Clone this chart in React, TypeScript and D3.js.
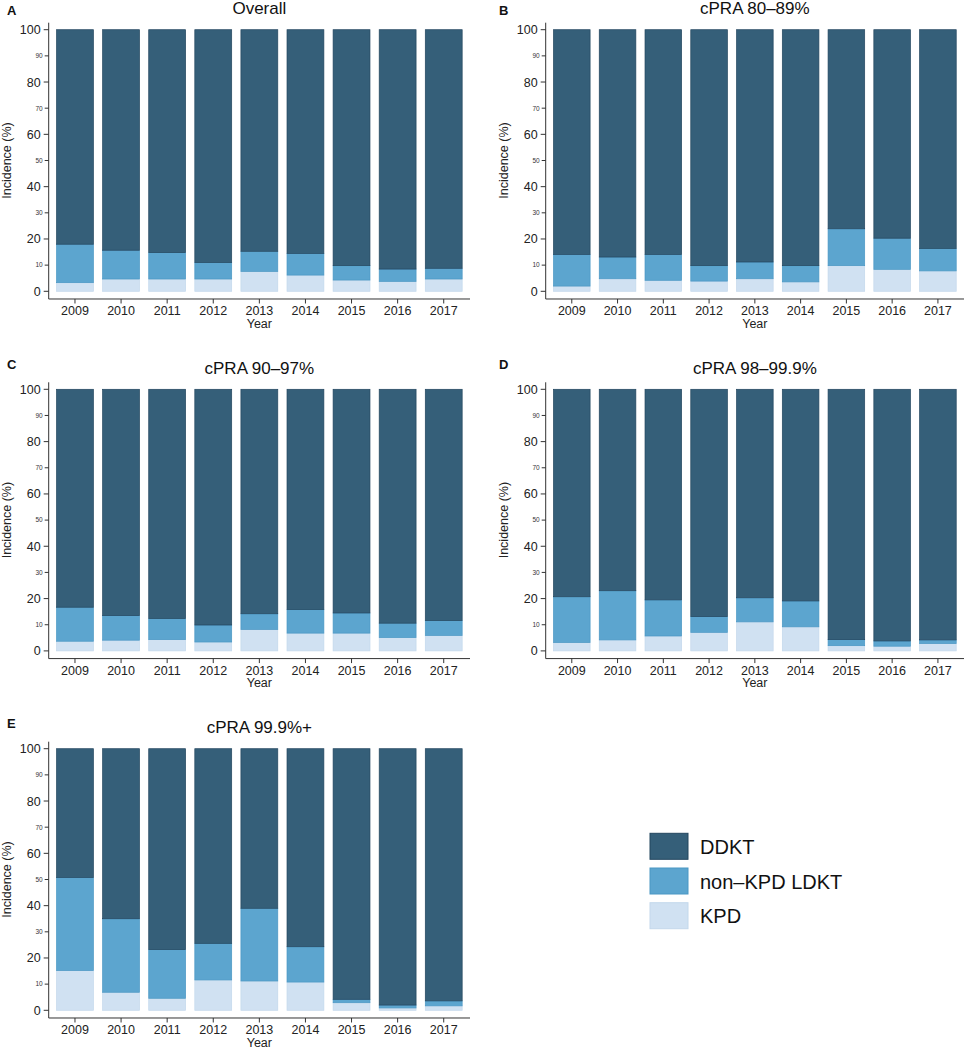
import React from 'react';
import * as d3 from 'd3';

const YEARS = ['2009', '2010', '2011', '2012', '2013', '2014', '2015', '2016', '2017'];
const SERIES = ['KPD', 'non\u2013KPD LDKT', 'DDKT'];
const LEGEND_ORDER = ['DDKT', 'non\u2013KPD LDKT', 'KPD'];
const MAJOR_TICKS = [0, 20, 40, 60, 80, 100];
const MINOR_TICKS = [10, 30, 50, 70, 90];

// Panel A – Overall
const A_KPD = [3.3, 4.7, 4.7, 4.7, 7.6, 6.2, 4.3, 3.8, 4.7];
const A_LDKT = [14.7, 11.0, 10.1, 6.3, 7.7, 8.3, 5.5, 4.7, 4.1];
const A_DDKT = [82.0, 84.3, 85.2, 89.0, 84.7, 85.5, 90.2, 91.5, 91.2];
// Panel B – cPRA 80–89%
const B_KPD = [2.0, 4.8, 4.2, 3.9, 4.8, 3.6, 9.8, 8.4, 7.8];
const B_LDKT = [12.1, 8.3, 9.9, 5.9, 6.4, 6.2, 14.1, 11.9, 8.6];
const B_DDKT = [85.9, 86.9, 85.9, 90.2, 88.8, 90.2, 76.1, 79.7, 83.6];
// Panel C – cPRA 90–97%
const C_KPD = [3.7, 4.1, 4.3, 3.4, 8.2, 6.8, 6.8, 5.1, 5.9];
const C_LDKT = [13.0, 9.4, 8.1, 6.5, 6.0, 9.0, 7.7, 5.5, 5.7];
const C_DDKT = [83.3, 86.5, 87.6, 90.1, 85.8, 84.2, 85.5, 89.4, 88.4];
// Panel D – cPRA 98–99.9%
const D_KPD = [3.2, 4.2, 5.7, 7.1, 11.1, 9.2, 2.0, 1.8, 2.8];
const D_LDKT = [17.5, 18.8, 13.8, 6.0, 9.2, 9.9, 2.3, 2.0, 1.4];
const D_DDKT = [79.3, 77.0, 80.5, 86.9, 79.7, 80.9, 95.7, 96.2, 95.8];
// Panel E – cPRA 99.9%+
const E_KPD = [15.2, 6.9, 4.6, 11.6, 11.2, 10.8, 2.9, 0.9, 1.7];
const E_LDKT = [35.6, 28.1, 18.6, 14.0, 27.8, 13.5, 1.3, 1.1, 1.9];
const E_DDKT = [49.2, 65.0, 76.8, 74.4, 61.0, 75.7, 95.8, 98.0, 96.4];

const FILL: Record<string, string> = {
  DDKT: '#355f79',
  'non\u2013KPD LDKT': '#5ca5cf',
  KPD: '#d0e1f2',
};
const STROKE: Record<string, string> = {
  DDKT: '#23465f',
  'non\u2013KPD LDKT': '#4a97c4',
  KPD: '#c3d8ec',
};

const FONT = '"Liberation Sans", Arial, Helvetica, sans-serif';

const panels = [
  { letter: 'A', title: 'Overall', kpd: A_KPD, ldkt: A_LDKT, ddkt: A_DDKT, col: 0, row: 0 },
  { letter: 'B', title: 'cPRA 80\u201389%', kpd: B_KPD, ldkt: B_LDKT, ddkt: B_DDKT, col: 1, row: 0 },
  { letter: 'C', title: 'cPRA 90\u201397%', kpd: C_KPD, ldkt: C_LDKT, ddkt: C_DDKT, col: 0, row: 1 },
  { letter: 'D', title: 'cPRA 98\u201399.9%', kpd: D_KPD, ldkt: D_LDKT, ddkt: D_DDKT, col: 1, row: 1 },
  { letter: 'E', title: 'cPRA 99.9%+', kpd: E_KPD, ldkt: E_LDKT, ddkt: E_DDKT, col: 0, row: 2 },
];

const COL_LEFT = [48.7, 545.7];
const COL_RIGHT = [470, 964];
const COL_LETTER_X = [7, 499];
const ROW_Y100 = [29.7, 389.3, 748.7];
const ROW_LETTER_OFFSET = [15, 20, 21];
const UNIT = 2.616;

function Panel({ p }: { p: (typeof panels)[number] }) {
  const left = COL_LEFT[p.col];
  const right = COL_RIGHT[p.col];
  const y100 = ROW_Y100[p.row];
  const y0 = y100 + 100 * UNIT;
  const y = d3.scaleLinear().domain([0, 100]).range([y0, y100]);
  const yBottom = y(-2.94);
  const yTop = y(102.68);
  const x = d3
    .scaleBand<string>()
    .domain(YEARS)
    .range([left, right])
    .paddingInner(0.2)
    .paddingOuter(0.17);

  const rows = YEARS.map((yr, i) => ({
    year: yr,
    KPD: p.kpd[i],
    'non\u2013KPD LDKT': p.ldkt[i],
    DDKT: p.ddkt[i],
  }));
  const stacked = d3.stack<any>().keys(SERIES)(rows);
  const bw = x.bandwidth();
  const cx = (left + right) / 2;

  return (
    <g>
      <text x={COL_LETTER_X[p.col]} y={y100 - ROW_LETTER_OFFSET[p.row]} fontSize={13} fontWeight="bold" fill="#111">
        {p.letter}
      </text>
      <text x={cx} y={y100 - 15.7} fontSize={17} textAnchor="middle" fill="#111">
        {p.title}
      </text>
      {stacked.map((s) => (
        <g key={s.key}>
          {s.map((d, i) => (
            <rect
              key={i}
              x={x(YEARS[i])}
              width={bw}
              y={y(d[1])}
              height={Math.max(0, y(d[0]) - y(d[1]))}
              fill={FILL[s.key]}
              stroke={STROKE[s.key]}
              strokeWidth={0.7}
            />
          ))}
        </g>
      ))}
      {/* y axis */}
      <line x1={left} x2={left} y1={yTop} y2={yBottom} stroke="#333" strokeWidth={1} />
      {MAJOR_TICKS.map((t) => (
        <g key={'M' + t}>
          <line x1={left - 5} x2={left} y1={y(t)} y2={y(t)} stroke="#333" strokeWidth={1} />
          <text x={left - 8} y={y(t)} dy="0.36em" fontSize={12.5} textAnchor="end" fill="#222">
            {t}
          </text>
        </g>
      ))}
      {MINOR_TICKS.map((t) => (
        <g key={'m' + t}>
          <line x1={left - 4} x2={left} y1={y(t)} y2={y(t)} stroke="#333" strokeWidth={1} />
          <text x={left - 6} y={y(t)} dy="0.36em" fontSize={6.5} textAnchor="end" fill="#333">
            {t}
          </text>
        </g>
      ))}
      <text
        transform={`translate(${left - 38},${(y100 + y0) / 2}) rotate(-90)`}
        fontSize={12.5}
        textAnchor="middle"
        fill="#222"
      >
        Incidence (%)
      </text>
      {/* x axis */}
      <line x1={left} x2={right} y1={yBottom} y2={yBottom} stroke="#333" strokeWidth={1} />
      {YEARS.map((yr) => {
        const xc = (x(yr) as number) + bw / 2;
        return (
          <g key={yr}>
            <line x1={xc} x2={xc} y1={yBottom} y2={yBottom + 4.5} stroke="#333" strokeWidth={1} />
            <text x={xc} y={y0 + 24} fontSize={12.5} textAnchor="middle" fill="#222">
              {yr}
            </text>
          </g>
        );
      })}
      <text x={cx} y={y0 + 36.5} fontSize={12.5} textAnchor="middle" fill="#222">
        Year
      </text>
    </g>
  );
}

export default function App() {
  const legendY = d3.scalePoint<string>().domain(LEGEND_ORDER).range([833.3, 902.7]);
  return (
    <svg
      width={969}
      height={1050}
      style={{ position: 'absolute', left: 0, top: 0, background: '#fff', fontFamily: FONT }}
    >
      <rect x={0} y={0} width={969} height={1050} fill="#fff" />
      {panels.map((p) => (
        <Panel key={p.letter} p={p} />
      ))}
      {LEGEND_ORDER.map((k) => (
        <g key={k}>
          <rect
            x={650}
            y={legendY(k)}
            width={38}
            height={26}
            fill={FILL[k]}
            stroke={STROKE[k]}
            strokeWidth={1}
          />
          <text x={700} y={(legendY(k) as number) + 20.7} fontSize={20} fill="#111">
            {k}
          </text>
        </g>
      ))}
    </svg>
  );
}
